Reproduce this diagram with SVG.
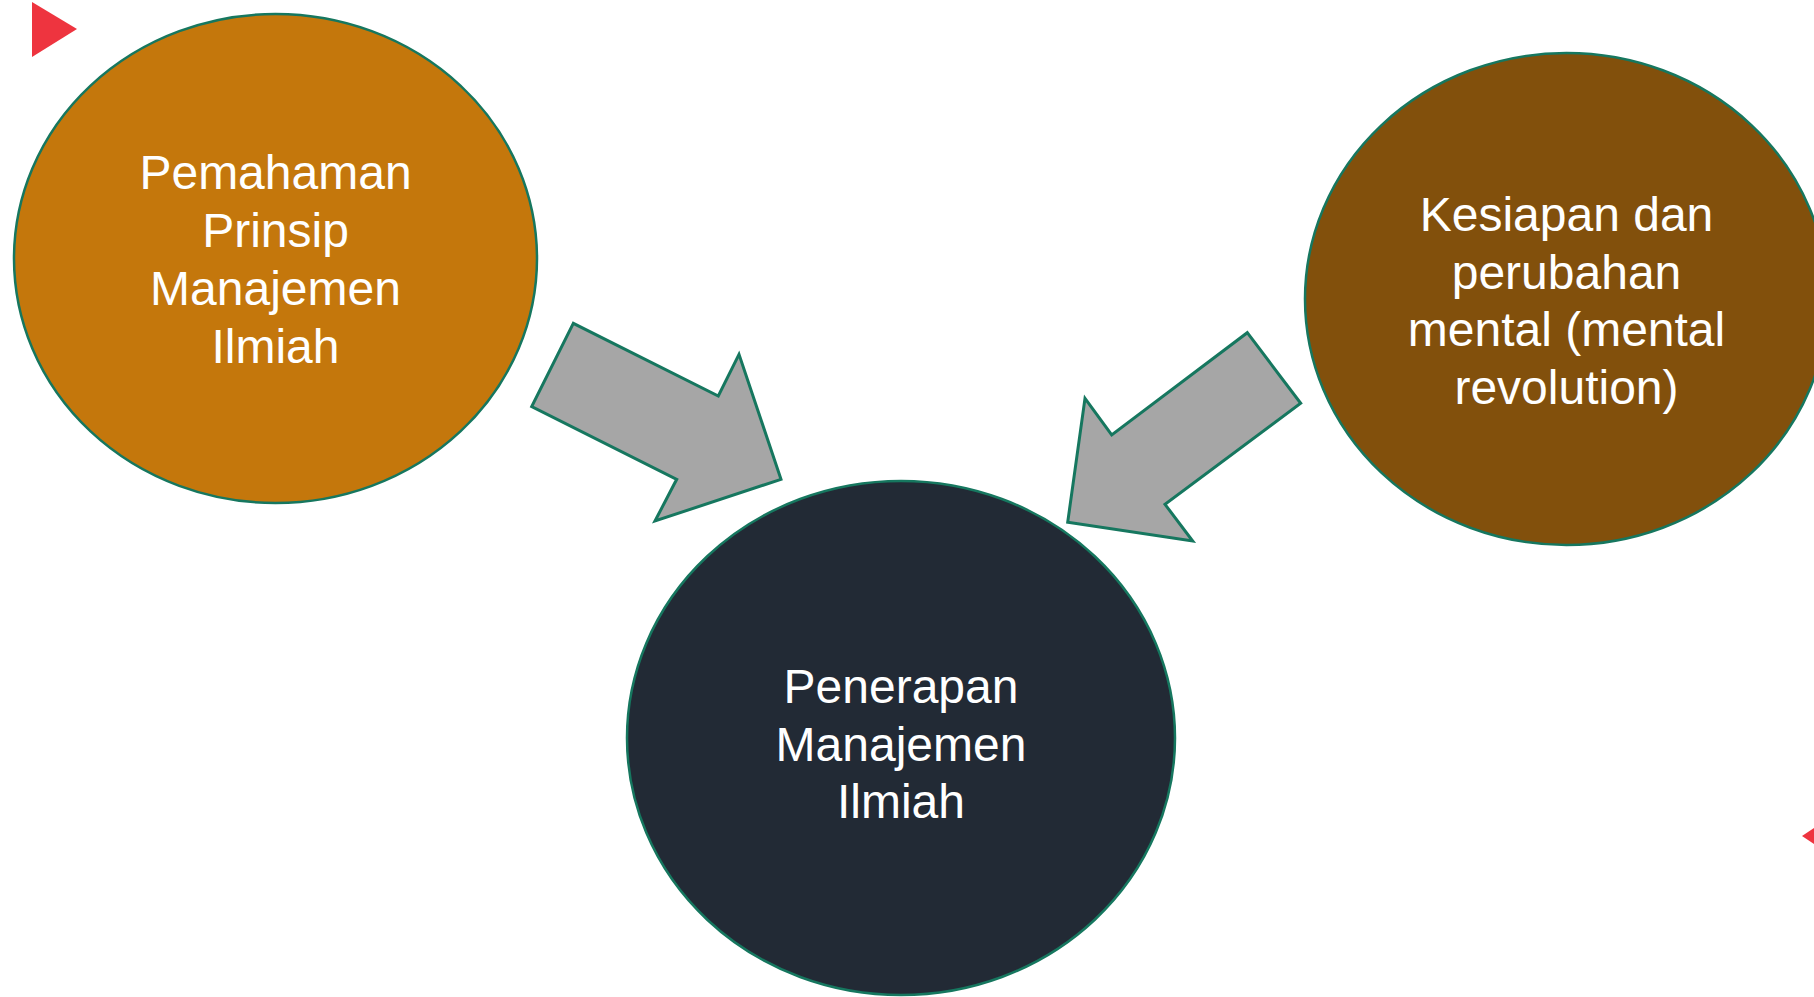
<svg xmlns="http://www.w3.org/2000/svg" width="1814" height="997" viewBox="0 0 1814 997">
<style>
.node{stroke:#16775F;stroke-width:2.5}
.lbl{font-family:"Liberation Sans",Arial,sans-serif;font-size:48px;fill:#FFFFFF;text-anchor:middle}
.arr{fill:#A6A6A6;stroke:#16775F;stroke-width:3;stroke-linejoin:miter}
.mark{fill:#EE343F}
</style>
<rect width="1814" height="997" fill="#FFFFFF"/>
<polygon class="mark" points="32,2 77,29 32,57"/>
<polygon class="mark" points="1802,836 1814,828 1814,844"/>
<g id="node-pemahaman">
<ellipse class="node" cx="275.5" cy="258.5" rx="261.5" ry="244.5" fill="#C4770C"/>
<text class="lbl" x="275.5" y="189">Pemahaman</text>
<text class="lbl" x="275.5" y="247">Prinsip</text>
<text class="lbl" x="275.5" y="305">Manajemen</text>
<text class="lbl" x="275.5" y="363">Ilmiah</text>
</g>
<g id="node-kesiapan">
<ellipse class="node" cx="1566.5" cy="299" rx="261.5" ry="246" fill="#82500C"/>
<text class="lbl" x="1566.5" y="231">Kesiapan dan</text>
<text class="lbl" x="1566.5" y="289">perubahan</text>
<text class="lbl" x="1566.5" y="346">mental (mental</text>
<text class="lbl" x="1566.5" y="404">revolution)</text>
</g>
<g id="node-penerapan">
<ellipse class="node" cx="901" cy="738" rx="274" ry="257" fill="#222A35"/>
<text class="lbl" x="901" y="703">Penerapan</text>
<text class="lbl" x="901" y="761">Manajemen</text>
<text class="lbl" x="901" y="818">Ilmiah</text>
</g>
<g id="connectors">
<polygon class="arr" points="573.3,323.3 531.7,406.7 676.7,479.3 655,521 781,479.3 739,354.3 718.3,396"/>
<polygon class="arr" points="1247.3,332.7 1300.7,403.3 1165,504.3 1192.7,541 1067.7,522.3 1085,398.3 1111.7,435"/>
</g>
</svg>
